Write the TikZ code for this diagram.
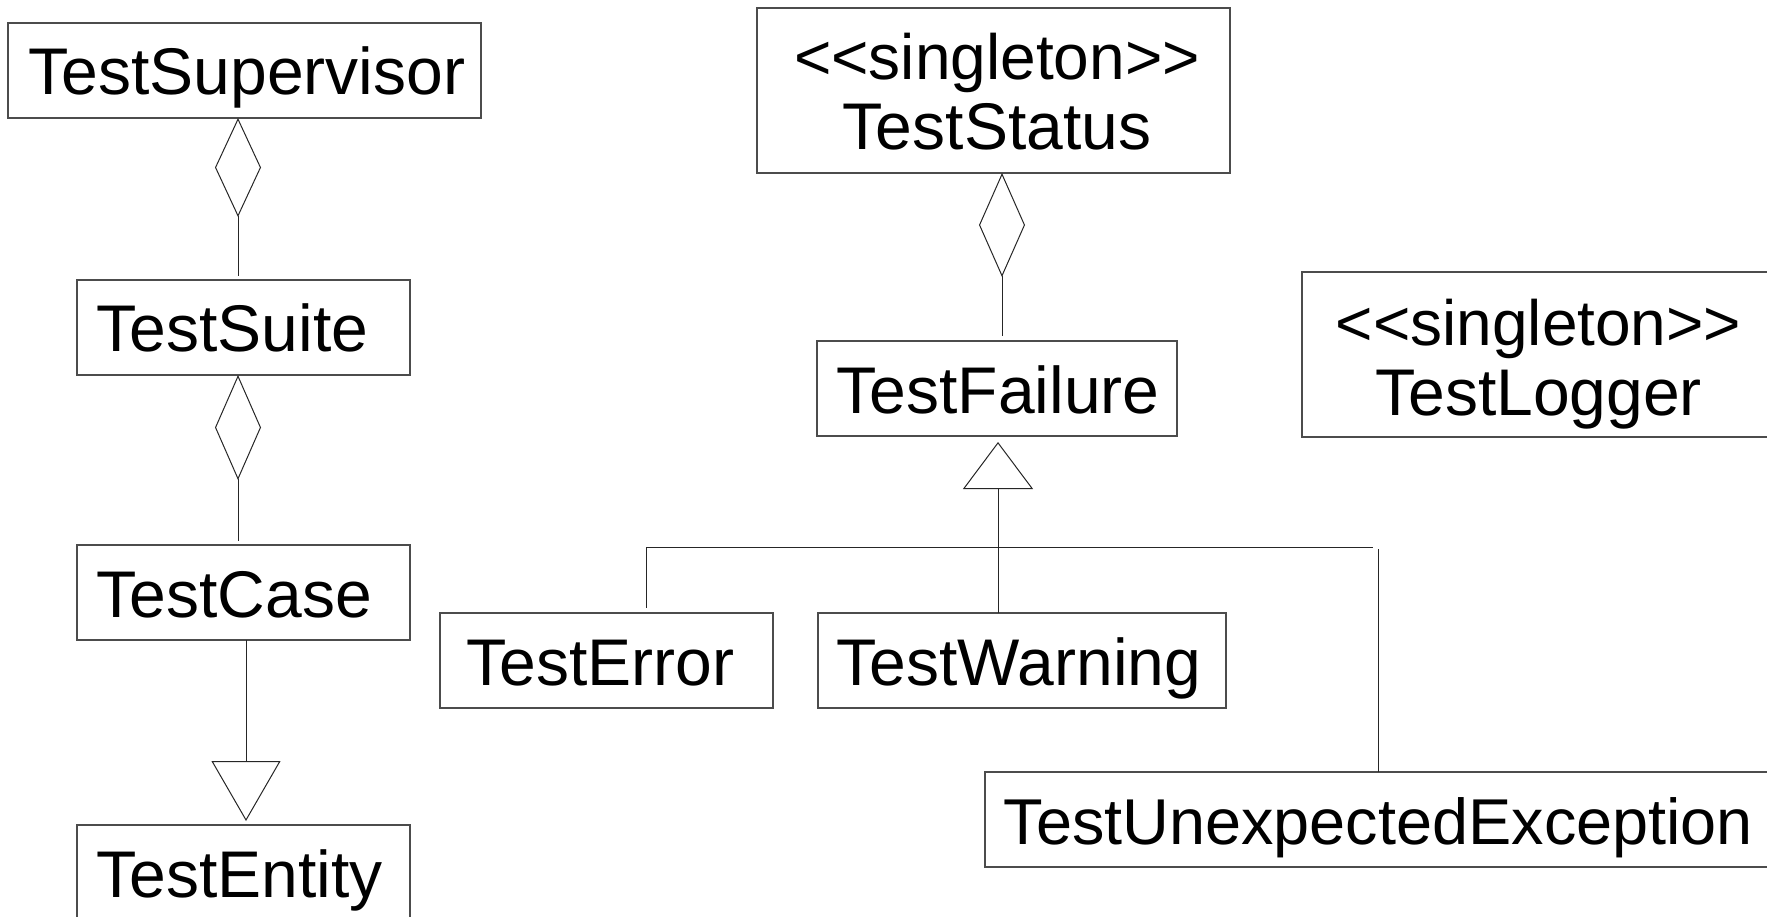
\documentclass[tikz,border=0pt]{standalone}
\usepackage{fontspec}
\newfontfamily\umlfont{Liberation Sans}
\usetikzlibrary{arrows.meta}
\newcommand\clsfont{\umlfont\fontsize{66}{70}\selectfont}
\newcommand\stfont{\umlfont\fontsize{64}{70}\selectfont}
\begin{document}
\begin{tikzpicture}[x=1pt,y=-1pt,
  box/.style={draw=black!70, line width=1.3pt, rectangle, inner sep=0pt, outer sep=0pt, anchor=north west},
  lbl/.style={font=\clsfont, inner sep=0pt, anchor=base west},
  stereo/.style={font=\stfont, inner sep=0pt, align=center, anchor=base},
  conn/.style={draw=black!85, line width=1pt},
  agg/.style={conn, {Diamond[open, width=46pt, length=#1]}-},
  gen/.style 2 args={conn, -{Triangle[open, width=#1, length=#2]}}
]
\useasboundingbox (0,0) rectangle (1767,917);
\clip (0,0) rectangle (1767,917);

% boxes
\node[box, minimum width=473pt, minimum height=95pt] (sup) at (8,23) {};
\node[box, minimum width=333pt, minimum height=95pt] (suite) at (77,280) {};
\node[box, minimum width=333pt, minimum height=95pt] (case) at (77,545) {};
\node[box, minimum width=333pt, minimum height=95pt] (entity) at (77,825) {};
\node[box, minimum width=473pt, minimum height=165pt] (status) at (757,8) {};
\node[box, minimum width=360pt, minimum height=95pt] (failure) at (817,341) {};
\node[box, minimum width=333pt, minimum height=95pt] (error) at (440,613) {};
\node[box, minimum width=408pt, minimum height=95pt] (warning) at (818,613) {};
\node[box, minimum width=800pt, minimum height=95pt] (unexp) at (985,772) {};
\node[box, minimum width=473pt, minimum height=165pt] (logger) at (1302,272) {};

% texts
\node[lbl] (supT) at ([xshift=20.5pt,yshift=23pt]sup.south west) {TestSupervisor};
\node[lbl] (suiteT) at ([xshift=19.5pt,yshift=23pt]suite.south west) {TestSuite};
\node[lbl] (caseT) at ([xshift=19.5pt,yshift=23pt]case.south west) {TestCase};
\node[lbl] (entityT) at ([xshift=19.5pt,yshift=23pt]entity.south west) {TestEntity};
\node[lbl] (failureT) at ([xshift=19.5pt,yshift=23pt]failure.south west) {TestFailure};
\node[lbl] (errorT) at ([xshift=26.5pt,yshift=23pt]error.south west) {TestError};
\node[lbl] (warningT) at ([xshift=18.5pt,yshift=23pt]warning.south west) {TestWarning};
\node[lbl, font=\umlfont\fontsize{64.8}{70}\selectfont] (unexpT) at ([xshift=18.5pt,yshift=23pt]unexp.south west) {TestUnexpectedException};
\node[stereo] (statusT) at ([xshift=3.5pt,yshift=23pt]status.south) {<<singleton>>\\\clsfont TestStatus};
\node[stereo] (loggerT) at ([yshift=22pt]logger.south) {<<singleton>>\\\clsfont TestLogger};

% connector helpers
\coordinate (xa) at (238,0);
\coordinate (xb) at (246,0);
\coordinate (xc) at (1002,0);
\coordinate (xd) at (998,0);
\coordinate (busL) at (646,547);
\coordinate (busR) at (1373,547);
\coordinate (busR2) at (1378,549);

% connectors
\draw[agg=99pt, shorten >=4pt] (sup.south -| xa) -- (suite.north -| xa);
\draw[agg=105pt, shorten >=4pt] (suite.south -| xa) -- (case.north -| xa);
\draw[gen={69pt}{60pt}, shorten >=4pt] (case.south -| xb) -- (entity.north -| xb);
\draw[agg=104pt, shorten >=5pt] (status.south -| xc) -- (failure.north -| xc);
\draw[gen={70pt}{47pt}, shorten >=6pt] (warning.north -| xd) -- (failure.south -| xd);
\draw[conn] (busL) -- (busR);
\draw[conn, shorten >=5pt] (busL) -- (error.north -| busL);
\draw[conn] (busR2) -- (unexp.north -| busR2);
\end{tikzpicture}
\end{document}
